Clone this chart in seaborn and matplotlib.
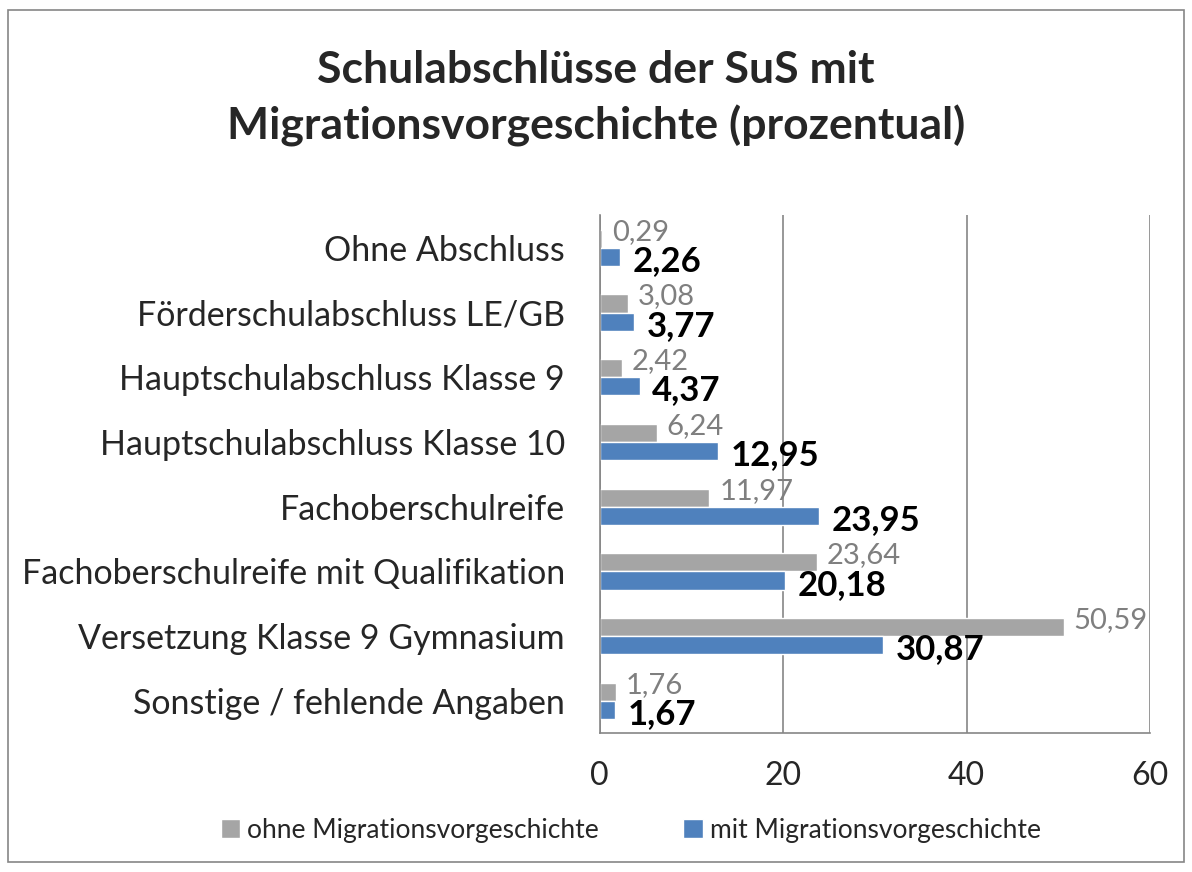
import numpy as np
import pandas as pd
import matplotlib
matplotlib.use("Agg")
import matplotlib.pyplot as plt
import seaborn as sns
from matplotlib.patches import Rectangle

categories = [
    "Ohne Abschluss",
    "Förderschulabschluss LE/GB",
    "Hauptschulabschluss Klasse 9",
    "Hauptschulabschluss Klasse 10",
    "Fachoberschulreife",
    "Fachoberschulreife mit Qualifikation",
    "Versetzung Klasse 9 Gymnasium",
    "Sonstige / fehlende Angaben",
]
ohne_values = [0.29, 3.08, 2.42, 6.24, 11.97, 23.64, 50.59, 1.76]
mit_values = [2.26, 3.77, 4.37, 12.95, 23.95, 20.18, 30.87, 1.67]
series_names = ["ohne Migrationsvorgeschichte", "mit Migrationsvorgeschichte"]
x_ticks = [0, 20, 40, 60]

GRAY = "#A5A5A5"
BLUE = "#4F81BD"
AXIS = "#868686"

df = pd.DataFrame({
    "Abschluss": categories * 2,
    "Wert": ohne_values + mit_values,
    "Gruppe": [series_names[0]] * len(categories) + [series_names[1]] * len(categories),
})

sns.set_style("white")
plt.rcParams["font.family"] = ["Lato", "DejaVu Sans"]

fig = plt.figure(figsize=(11.92, 8.72), dpi=100)
ax = fig.add_axes([0.503, 0.159, 0.462, 0.594])

sns.barplot(
    data=df, x="Wert", y="Abschluss", hue="Gruppe",
    order=categories, hue_order=series_names,
    palette=[GRAY, BLUE], width=0.56, gap=0, saturation=1,
    orient="h", ax=ax, legend=True,
)


def de(v):
    return f"{v:.2f}".replace(".", ",")


# data labels (German decimal comma), gray a bit above, blue a bit below
for bar, v in zip(ax.containers[0], ohne_values):
    yc = bar.get_y() + bar.get_height() / 2
    ax.annotate(de(v), (bar.get_width(), yc), xytext=(7, 5), textcoords="offset points",
                ha="left", va="center", color="#7F7F7F", fontsize=21)
for bar, v in zip(ax.containers[1], mit_values):
    yc = bar.get_y() + bar.get_height() / 2
    ax.annotate(de(v), (bar.get_width(), yc), xytext=(9, -3), textcoords="offset points",
                ha="left", va="center", color="black", fontsize=25, fontweight="bold")

ax.set_xlim(0, 60)
ax.set_ylim(len(categories) - 0.5, -0.5)
ax.set_xticks(x_ticks)
ax.set_xticklabels([str(t) for t in x_ticks], fontsize=23)
ax.xaxis.grid(True, color=AXIS, linewidth=1.2)
ax.set_axisbelow(True)
ax.set_xlabel("")
ax.set_ylabel("")

ax.tick_params(axis="x", length=6, color=AXIS, width=1.2, pad=14, direction="out")
ax.tick_params(axis="y", which="major", length=0, pad=25, labelsize=24.5)
ax.set_yticks(np.arange(len(categories) + 1) - 0.5, minor=True)
ax.tick_params(axis="y", which="minor", length=6, color=AXIS, width=1.2, direction="out")

for side in ["top", "right"]:
    ax.spines[side].set_visible(False)
for side in ["left", "bottom"]:
    ax.spines[side].set_color(AXIS)
    ax.spines[side].set_linewidth(1.2)

ax.legend(loc="lower center", bbox_to_anchor=(0.529, 0.006), bbox_transform=fig.transFigure,
          ncol=2, frameon=False, fontsize=19,
          handlelength=0.75, handleheight=0.75, handletextpad=0.25, columnspacing=3.2)

fig.text(0.5, 0.887, "Schulabschlüsse der SuS mit\nMigrationsvorgeschichte (prozentual)",
         ha="center", va="center", fontsize=32, fontweight="bold", linespacing=1.45)

fig.patches.append(Rectangle((0.007, 0.011), 0.986, 0.978, transform=fig.transFigure,
                             fill=False, edgecolor=AXIS, linewidth=1.2))

fig.savefig("out.png", dpi=100)
